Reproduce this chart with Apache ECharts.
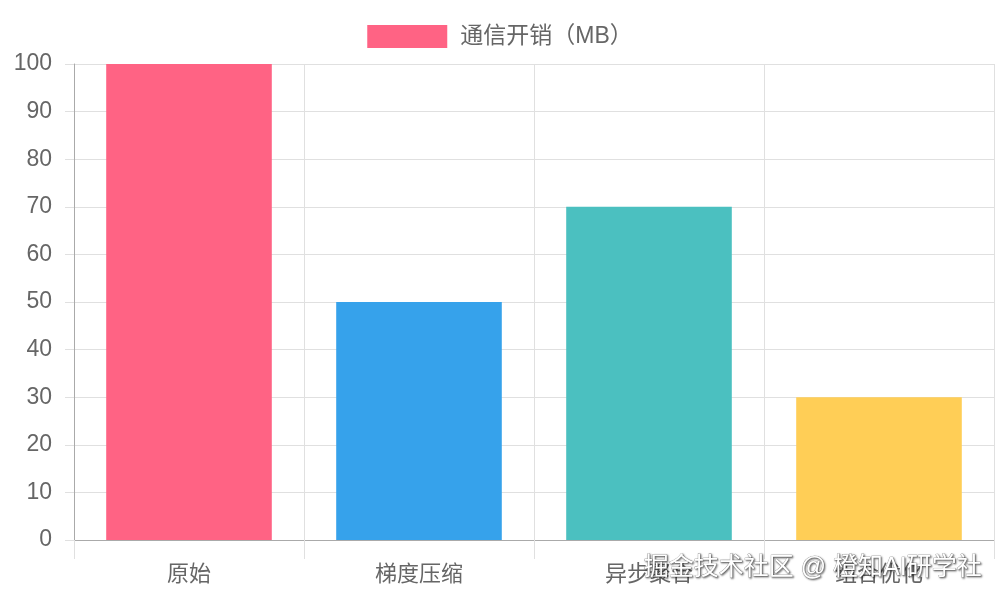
<!DOCTYPE html>
<html><head><meta charset="utf-8">
<script src="https://cdn.jsdelivr.net/npm/echarts@6/dist/echarts.min.js"></script>
<style>html,body{margin:0;padding:0;background:#fff}#c{width:1000px;height:600px}</style>
</head><body><div id="c"></div>
<script>
const categories = ['原始', '梯度压缩', '异步聚合', '组合优化'];
const commCost = [100, 50, 70, 30];
const barColors = ['#FF6384', '#36A2EB', '#4BC0C0', '#FFCE56'];
const seriesName = '通信开销（MB）';
const watermark = '掘金技术社区 @ 橙知AI研学社';

const font = '"Liberation Sans", "Noto Sans CJK SC", Arial, sans-serif';
const chart = echarts.init(document.getElementById('c'));
chart.setOption({
  animation: false,
  textStyle: { fontFamily: font },
  legend: {
    top: 20, left: 'center',
    itemWidth: 80, itemHeight: 23, icon: 'rect',
    textStyle: { fontSize: 23, color: '#666', fontFamily: font, padding: [0, 0, 0, 8] },
    data: [seriesName]
  },
  grid: { left: 74, right: 6, top: 64, bottom: 60 },
  xAxis: {
    type: 'category', data: categories, boundaryGap: true,
    axisLine: { lineStyle: { color: '#aaaaaa', width: 1 } },
    axisTick: { show: true, length: 19, lineStyle: { color: '#e0e0e0' } },
    axisLabel: { fontSize: 22, color: '#666', margin: 24, fontFamily: font },
    splitLine: { show: true, lineStyle: { color: '#e0e0e0' } }
  },
  yAxis: {
    type: 'value', min: 0, max: 100, interval: 10,
    axisLine: { show: true, lineStyle: { color: '#aaaaaa' } },
    axisTick: { show: true, length: 9, lineStyle: { color: '#e0e0e0' } },
    axisLabel: { fontSize: 23, color: '#666', margin: 22, fontFamily: font },
    splitLine: { show: true, lineStyle: { color: '#e0e0e0' } }
  },
  series: [{
    name: seriesName, type: 'bar', barWidth: '72%',
    itemStyle: { color: barColors[0] },
    data: commCost.map((v, i) => ({ value: v, itemStyle: { color: barColors[i] } }))
  }],
  graphic: [{
    type: 'text', right: 18, bottom: 19, z: 100,
    style: {
      text: watermark, fontSize: 25, fontFamily: font,
      fill: '#ffffff', stroke: '#888', lineWidth: 0.6,
      textShadowColor: 'rgba(0,0,0,0.55)', textShadowBlur: 2,
      textShadowOffsetX: 1, textShadowOffsetY: 1
    }
  }]
});
</script></body></html>
